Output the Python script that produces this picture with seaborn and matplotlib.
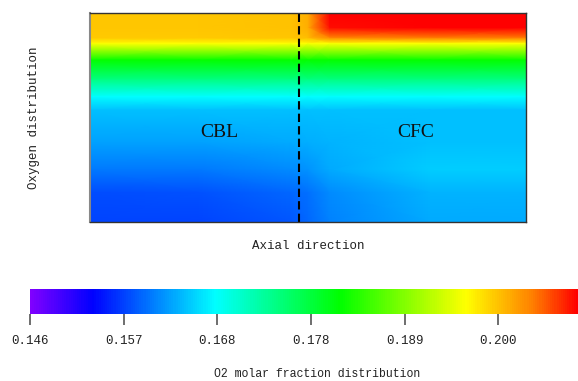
import numpy as np
import matplotlib
matplotlib.use("Agg")
import matplotlib.pyplot as plt
from matplotlib.colors import LinearSegmentedColormap, Normalize
import matplotlib.cm as cm
import seaborn as sns

# ---- data ----
# positions across the domain (0 = left, 1 = right) and down it (0 = top, 1 = bottom)
x_levels = [0.0, 0.25, 0.46, 0.50, 0.55, 0.78, 1.0]
y_levels = [0.0, 0.07, 0.12, 0.145, 0.225, 0.32, 0.40, 0.465, 0.62, 0.75, 0.86, 1.0]
# O2 molar fraction, one row per y level
row_00 = [0.1996, 0.1996, 0.1998, 0.2010, 0.2090, 0.2090, 0.2090]
row_01 = [0.1996, 0.1996, 0.1998, 0.2010, 0.2085, 0.2090, 0.2090]
row_02 = [0.1994, 0.1994, 0.1995, 0.2000, 0.2030, 0.2035, 0.2035]
row_03 = [0.1960, 0.1960, 0.1960, 0.1960, 0.1962, 0.1962, 0.1962]
row_04 = [0.1817, 0.1817, 0.1817, 0.1817, 0.1817, 0.1817, 0.1817]
row_05 = [0.1742, 0.1742, 0.1742, 0.1742, 0.1742, 0.1742, 0.1742]
row_06 = [0.1673, 0.1673, 0.1673, 0.1673, 0.1673, 0.1673, 0.1673]
row_07 = [0.1638, 0.1638, 0.1638, 0.1638, 0.1638, 0.1638, 0.1638]
row_08 = [0.1622, 0.1622, 0.1626, 0.1628, 0.1632, 0.1638, 0.1638]
row_09 = [0.1598, 0.1600, 0.1610, 0.1615, 0.1625, 0.1645, 0.1645]
row_10 = [0.1575, 0.1577, 0.1588, 0.1595, 0.1608, 0.1632, 0.1632]
row_11 = [0.1569, 0.1569, 0.1580, 0.1590, 0.1605, 0.1626, 0.1626]

zone_labels = ["CBL", "CFC"]
zone_label_x = [0.296, 0.747]
zone_label_y = 0.574
interface_x = 0.480

cbar_ticks = [0.146, 0.15677, 0.16754, 0.17831, 0.18908, 0.19985]
cbar_ticklabels = ["0.146", "0.157", "0.168", "0.178", "0.189", "0.200"]
vmin, vmax = 0.146, 0.209

# ---- styling ----
sns.set_theme(style="white")
plt.rcParams["font.family"] = ["Liberation Mono", "DejaVu Sans Mono"]

cmap = LinearSegmentedColormap.from_list(
    "rainbow_o2",
    [(0.0, "#8000ff"), (0.113, "#0000ff"), (0.338, "#00ffff"),
     (0.566, "#00ff00"), (0.797, "#ffff00"), (0.918, "#ff8000"), (1.0, "#ff0000")])
norm = Normalize(vmin=vmin, vmax=vmax)

W, H = 578, 381
fig = plt.figure(figsize=(W / 100, H / 100), dpi=100)

ax = fig.add_axes([90 / W, 1 - 221.7 / H, 435.7 / W, 208.4 / H])
Z = np.array([row_00, row_01, row_02, row_03, row_04, row_05, row_06,
              row_07, row_08, row_09, row_10, row_11])
X, Y = np.meshgrid(x_levels, y_levels)
ax.pcolormesh(X, Y, Z, shading="gouraud", cmap=cmap, norm=norm)
ax.set_xlim(0, 1)
ax.set_ylim(1, 0)
ax.set_xticks([])
ax.set_yticks([])
for s in ax.spines.values():
    s.set_visible(True)
    s.set_color("#333333")
    s.set_linewidth(1.0)
ax.spines["left"].set_color("#888888")
ax.spines["left"].set_linewidth(1.5)

ax.axvline(interface_x, color="black", lw=1.5, dashes=(4, 2))
for lab, lx in zip(zone_labels, zone_label_x):
    ax.text(lx, zone_label_y, lab, ha="center", va="center",
            fontsize=14, family=["Liberation Serif", "DejaVu Serif"], color="#111111")

ax.set_xlabel("Axial direction", fontsize=9, labelpad=13, color="#222222")
ax.set_ylabel("Oxygen distribution", fontsize=9, labelpad=36, color="#222222")

cax = fig.add_axes([30 / W, 1 - 314 / H, 548 / W, 25 / H])
sm = cm.ScalarMappable(norm=norm, cmap=cmap)
cb = fig.colorbar(sm, cax=cax, orientation="horizontal")
cb.outline.set_visible(False)
cb.set_ticks(cbar_ticks)
cb.set_ticklabels(cbar_ticklabels)
cax.tick_params(axis="x", length=8, width=1.2, color="#555555",
                labelsize=9, pad=7, labelcolor="#222222", bottom=True)
cb.set_label("O2 molar fraction distribution", fontsize=8.3, labelpad=15, color="#222222")
cax.xaxis.label.set_x((317 - 30) / 548)

fig.savefig("out.png", dpi=100)
